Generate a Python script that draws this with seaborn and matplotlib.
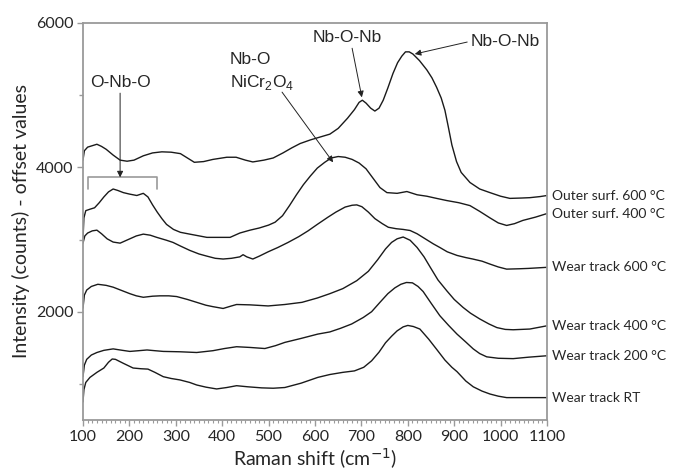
import numpy as np
import pandas as pd
import matplotlib
matplotlib.use("Agg")
import matplotlib.pyplot as plt
import matplotlib.transforms as mtransforms
from matplotlib.ticker import MultipleLocator
import seaborn as sns

# ---- data (x in cm^-1, y in counts incl. offset) ----
outer600_x = [100, 103, 110, 120, 130, 140, 150, 165, 180, 195, 210, 230, 250, 270, 290, 310, 325, 340, 360, 380,
              410, 430, 450, 466, 490, 510, 531, 550, 568, 590, 611, 632, 650, 670, 685, 695, 702, 710, 720, 729,
              738, 747, 757, 768, 778, 787, 795, 803, 811, 825, 841, 852, 862, 872, 880, 887, 895, 905, 915, 934,
              955, 977, 1000, 1020, 1045, 1063, 1085, 1100]
outer600_y = [4100, 4230, 4280, 4300, 4320, 4290, 4250, 4170, 4100, 4085, 4100, 4160, 4200, 4215, 4210, 4190, 4130, 4070, 4080, 4110,
              4140, 4140, 4100, 4075, 4100, 4130, 4200, 4270, 4330, 4380, 4420, 4460, 4540, 4680, 4800, 4900, 4930, 4890, 4820, 4780,
              4820, 4930, 5100, 5300, 5450, 5540, 5600, 5600, 5570, 5480, 5350, 5240, 5110, 4960, 4790, 4570, 4310, 4080, 3930, 3790,
              3700, 3650, 3600, 3570, 3575, 3580, 3595, 3610]

outer400_x = [100, 102, 106, 115, 125, 135, 145, 155, 165, 175, 187, 200, 216, 230, 240, 250, 260, 270, 280, 295,
              310, 330, 367, 400, 417, 438, 460, 480, 500, 514, 530, 545, 560, 575, 590, 605, 621, 635, 650, 665,
              680, 695, 710, 725, 740, 755, 777, 798, 820, 841, 862, 884, 910, 934, 955, 977, 995, 1013, 1030, 1048,
              1075, 1100]
outer400_y = [3000, 3300, 3400, 3420, 3440, 3510, 3590, 3660, 3700, 3680, 3650, 3630, 3610, 3640, 3590, 3480, 3380, 3290, 3210, 3140,
              3100, 3075, 3030, 3030, 3030, 3090, 3130, 3160, 3200, 3240, 3330, 3470, 3620, 3760, 3880, 3990, 4070, 4130, 4150, 4140,
              4110, 4060, 3980, 3850, 3720, 3650, 3640, 3665, 3620, 3600, 3570, 3540, 3510, 3470, 3390, 3300, 3230, 3195, 3220, 3265,
              3310, 3360]

wear600_x = [100, 104, 110, 120, 130, 140, 152, 165, 180, 201, 215, 230, 245, 259, 280, 294, 310, 330, 350, 367,
             385, 402, 420, 438, 445, 453, 466, 480, 499, 520, 542, 565, 585, 605, 628, 645, 665, 680, 690, 701,
             715, 729, 745, 758, 775, 790, 805, 820, 840, 855, 869, 885, 906, 925, 940, 960, 977, 995, 1013, 1040,
             1060, 1100]
wear600_y = [2950, 3050, 3090, 3120, 3130, 3080, 3010, 2965, 2950, 3010, 3050, 3075, 3060, 3030, 2990, 2960, 2910, 2850, 2800, 2770,
             2740, 2730, 2740, 2760, 2790, 2760, 2730, 2770, 2830, 2890, 2960, 3040, 3120, 3210, 3310, 3380, 3450, 3475, 3480, 3455,
             3380, 3290, 3220, 3170, 3150, 3140, 3125, 3080, 3000, 2940, 2890, 2830, 2780, 2750, 2730, 2700, 2660, 2620, 2590, 2595,
             2600, 2615]

wear400_x = [100, 103, 108, 118, 132, 150, 165, 185, 201, 215, 230, 250, 266, 285, 302, 325, 345, 365, 380, 402,
             420, 431, 460, 499, 535, 572, 605, 632, 660, 690, 715, 735, 752, 765, 777, 790, 805, 820, 835, 848,
             865, 884, 900, 919, 935, 955, 975, 992, 1010, 1027, 1063, 1100]
wear400_y = [2050, 2230, 2300, 2350, 2380, 2365, 2340, 2290, 2250, 2220, 2200, 2215, 2220, 2220, 2210, 2170, 2130, 2090, 2070, 2045,
             2080, 2100, 2095, 2080, 2100, 2130, 2190, 2250, 2320, 2430, 2560, 2720, 2870, 2960, 3010, 3035, 2990, 2890, 2760, 2620,
             2440, 2290, 2170, 2060, 1980, 1900, 1830, 1780, 1755, 1750, 1760, 1805]

wear200_x = [100, 103, 108, 118, 130, 145, 165, 185, 201, 220, 238, 255, 273, 309, 345, 380, 405, 431, 460, 492,
             515, 535, 570, 606, 632, 655, 679, 704, 722, 740, 757, 772, 785, 797, 810, 822, 833, 850, 869, 888,
             906, 925, 941, 955, 970, 995, 1027, 1060, 1100]
wear200_y = [1100, 1260, 1340, 1400, 1435, 1465, 1485, 1465, 1450, 1460, 1470, 1460, 1450, 1445, 1435, 1460, 1490, 1515, 1505, 1490,
             1530, 1575, 1630, 1690, 1720, 1770, 1830, 1920, 2000, 2130, 2250, 2330, 2380, 2405, 2400, 2350, 2280, 2120, 1945, 1810,
             1690, 1580, 1485, 1420, 1375, 1355, 1350, 1370, 1390]

wearRT_x = [100, 102, 106, 115, 130, 145, 155, 163, 170, 187, 208, 225, 240, 255, 273, 290, 309, 330, 345, 365,
            388, 410, 431, 455, 485, 510, 535, 570, 606, 632, 660, 685, 705, 722, 738, 752, 765, 777, 790, 800,
            812, 826, 845, 862, 880, 895, 906, 925, 941, 960, 977, 995, 1013, 1050, 1100]
wearRT_y = [750, 920, 1020, 1090, 1160, 1220, 1300, 1345, 1340, 1285, 1220, 1210, 1205, 1160, 1100, 1075, 1055, 1020, 985, 955,
            930, 950, 975, 960, 945, 940, 950, 1010, 1090, 1130, 1160, 1180, 1230, 1320, 1440, 1570, 1660, 1735, 1790, 1810,
            1795, 1760, 1620, 1480, 1330, 1230, 1170, 1040, 960, 900, 860, 830, 810, 810, 810]

series_names = ["Outer surf. 600 °C", "Outer surf. 400 °C", "Wear track 600 °C",
                "Wear track 400 °C", "Wear track 200 °C", "Wear track RT"]
series_x = [outer600_x, outer400_x, wear600_x, wear400_x, wear200_x, wearRT_x]
series_y = [outer600_y, outer400_y, wear600_y, wear400_y, wear200_y, wearRT_y]

x_ticks = [100, 200, 300, 400, 500, 600, 700, 800, 900, 1000, 1100]
y_ticks = [2000, 4000, 6000]

# ---- figure ----
sns.set_style("white")
plt.rcParams['font.family'] = ['Lato', 'DejaVu Sans']

fig = plt.figure(figsize=(6.73, 4.71), dpi=100)
ax = fig.add_axes([0.1233, 0.1083, 0.6895, 0.8429])

frames = []
for name, xs, ys in zip(series_names, series_x, series_y):
    frames.append(pd.DataFrame({"shift": xs, "intensity": ys, "series": name}))
df = pd.concat(frames, ignore_index=True)

for name in series_names:
    sub = df[df["series"] == name]
    sns.lineplot(data=sub, x="shift", y="intensity", ax=ax, color="#1a1a1a",
                 lw=1.0, estimator=None, sort=False, legend=False)

ax.set_xlim(100, 1100)
ax.set_ylim(500, 6000)
ax.set_xticks(x_ticks)
ax.set_yticks(y_ticks)
ax.xaxis.set_minor_locator(MultipleLocator(10))
ax.yaxis.set_minor_locator(MultipleLocator(1000))

spine_col = "#9a9a9a"
for s in ax.spines.values():
    s.set_color(spine_col)
    s.set_linewidth(1.3)
    s.set_visible(True)
ax.tick_params(axis="both", which="major", direction="out", length=4, width=1,
               color=spine_col, labelsize=11.5, pad=3, bottom=True, left=True)
ax.tick_params(axis="x", which="minor", direction="out", length=2.5, width=0.8,
               color=spine_col, bottom=True)
ax.tick_params(axis="y", which="minor", direction="out", length=3, width=1,
               color=spine_col, left=True)

ax.set_xlabel("Raman shift (cm$^{-1}$)", fontsize=14, labelpad=2)
ax.set_ylabel("Intensity (counts) - offset values", fontsize=14, labelpad=4)

# right-side series labels
trans = mtransforms.blended_transform_factory(ax.transAxes, ax.transData)
for name, ys in zip(series_names, series_y):
    ax.text(1.01, ys[-1], name, transform=trans, ha="left", va="center",
            fontsize=10, clip_on=False)

# annotations
afont = dict(family=["Liberation Sans", "DejaVu Sans"], fontsize=12.5)
arrow = dict(arrowstyle="-|>", color="#222222", lw=0.7, mutation_scale=9,
             shrinkA=0, shrinkB=0)

ax.text(180, 5180, "O-Nb-O", ha="center", va="center", **afont)
ax.annotate("", xy=(180, 3861), xytext=(180, 5028), arrowprops=arrow)
ax.plot([111, 111, 259, 259], [3694, 3861, 3861, 3694], color=spine_col, lw=1.2)

ax.text(417, 5500, "Nb-O", ha="left", va="center", **afont)
ax.text(417, 5180, r"NiCr$_\mathregular{2}$O$_\mathregular{4}$", ha="left", va="center", **afont)
ax.annotate("", xy=(639, 4070), xytext=(529, 5042), arrowprops=arrow)

ax.text(669, 5800, "Nb-O-Nb", ha="center", va="center", **afont)
ax.annotate("", xy=(701, 4970), xytext=(680, 5650), arrowprops=arrow)

ax.text(1009, 5750, "Nb-O-Nb", ha="center", va="center", **afont)
ax.annotate("", xy=(815, 5570), xytext=(928, 5736), arrowprops=arrow)

fig.savefig("out.png", dpi=100)
